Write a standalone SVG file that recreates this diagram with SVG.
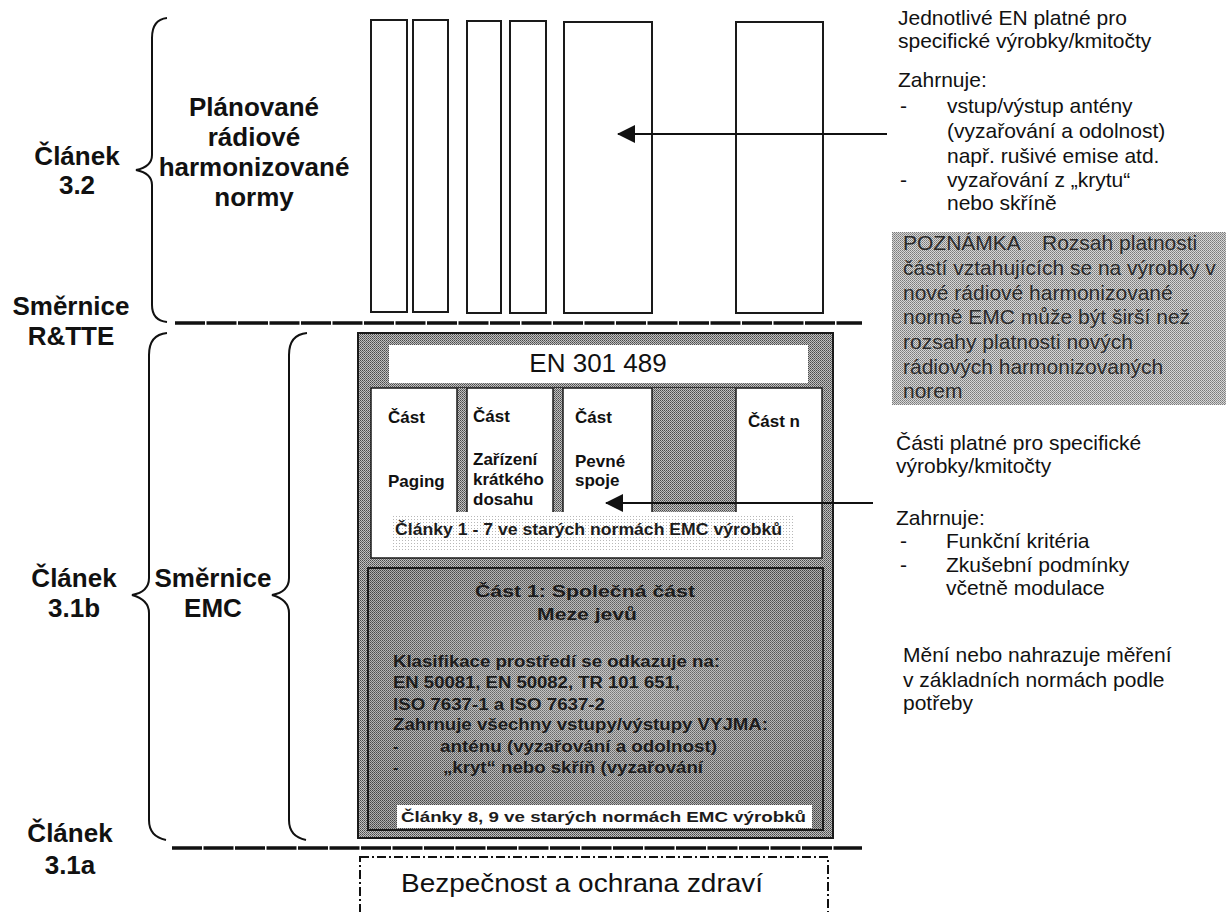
<svg xmlns="http://www.w3.org/2000/svg" width="1226" height="912" viewBox="0 0 1226 912">
<defs>
<style>
text{font-family:"Liberation Sans",Arial,Helvetica,sans-serif;fill:#111}
.lbl{font-weight:bold;font-size:26px;text-anchor:middle}
.rt{font-size:21px}
.nt{font-size:21px;fill:#2b2b2b}
.pt{font-weight:bold;font-size:17px}
.bt{font-weight:bold;font-size:16px;fill:#1c1c1c}
.mid{text-anchor:middle}
.tb{fill:#fff;stroke:#1a1a1a;stroke-width:2}
.sep{stroke:#111;stroke-width:3.5;stroke-dasharray:30 1.5;fill:none}
.brace{fill:none;stroke:#111;stroke-width:2}
.conn{stroke:#111;stroke-width:2;fill:none}
.edge{stroke:#1a1a1a;stroke-width:1.5;fill:none}
</style>
<pattern id="dotMid" width="2" height="2" patternUnits="userSpaceOnUse"><rect width="2" height="2" fill="#c0c0c0"/><rect width="1" height="1" fill="#4a4a4a"/><rect x="1" y="1" width="1" height="1" fill="#6a6a6a"/></pattern>
<pattern id="dotDark" width="2" height="2" patternUnits="userSpaceOnUse"><rect width="2" height="2" fill="#b0b0b0"/><rect width="1" height="1" fill="#444"/><rect x="1" y="1" width="1" height="1" fill="#606060"/></pattern>
<pattern id="dotNote" width="2" height="2" patternUnits="userSpaceOnUse"><rect width="2" height="2" fill="#d6d6d6"/><rect width="1" height="1" fill="#7a7a7a"/><rect x="1" y="1" width="1" height="1" fill="#909090"/></pattern>
<pattern id="dotLight" width="3" height="3" patternUnits="userSpaceOnUse"><rect width="3" height="3" fill="#fff"/><rect width="1" height="1" fill="#b8b8b8"/></pattern>
<radialGradient id="glow" cx="0.5" cy="0.45" r="0.6"><stop offset="0" stop-color="#fff" stop-opacity="0.3"/><stop offset="1" stop-color="#fff" stop-opacity="0"/></radialGradient>
<marker id="ah" markerWidth="18" markerHeight="18" viewBox="0 0 18 18" refX="17" refY="9" orient="auto" markerUnits="userSpaceOnUse"><path d="M0,0 L18,9 L0,18 Z" fill="#111"/></marker>
</defs>
<rect width="1226" height="912" fill="#fff"/>

<g id="left-labels">
<text class="lbl" x="77" y="165">Článek</text>
<text class="lbl" x="77" y="194">3.2</text>
<text class="lbl" x="71" y="315">Směrnice</text>
<text class="lbl" x="71" y="345">R&amp;TTE</text>
<text class="lbl" x="74" y="587">Článek</text>
<text class="lbl" x="74" y="617">3.1b</text>
<text class="lbl" x="70" y="842">Článek</text>
<text class="lbl" x="70" y="874">3.1a</text>
</g>

<g id="radio-label">
<text class="lbl" x="254" y="116">Plánované</text>
<text class="lbl" x="254" y="146">rádiové</text>
<text class="lbl" x="254" y="176">harmonizované</text>
<text class="lbl" x="254" y="206">normy</text>
</g>

<g id="emc-label">
<text class="lbl" x="213" y="587">Směrnice</text>
<text class="lbl" x="213" y="617">EMC</text>
</g>

<g id="braces">
<path class="brace" d="M167,18 C157,19 152,25 152,38 L152,155 C152,163 146,168 136,170 C146,172 152,177 152,185 L152,305 C152,316 157,321 167,322"/>
<path class="brace" d="M167,333 C156,334 149,341 149,355 L149,578 C149,588 143,593 132,595 C143,598 149,603 149,613 L149,820 C149,832 156,838 166,840"/>
<path class="brace" d="M307,333 C296,334 289,341 289,355 L289,578 C289,588 283,593 272,595 C283,598 289,603 289,613 L289,820 C289,832 296,838 306,840"/>
</g>

<g id="separators">
<line class="sep" x1="175" y1="323" x2="862" y2="323"/>
<line class="sep" x1="172" y1="848" x2="862" y2="848"/>
</g>

<g id="radio-standards">
<rect class="tb" x="371" y="20" width="36" height="292"/>
<rect class="tb" x="413" y="20" width="35" height="292"/>
<rect class="tb" x="467" y="21" width="34" height="292"/>
<rect class="tb" x="510" y="21" width="36" height="292"/>
<rect class="tb" x="564" y="22" width="88" height="291"/>
<rect class="tb" x="736" y="22" width="87" height="291"/>
</g>

<g id="en301489">
<rect x="358" y="333" width="475" height="505" fill="url(#dotMid)" stroke="#1a1a1a" stroke-width="2"/>
<rect x="389" y="345" width="419" height="38" fill="#fff"/>
<text x="598" y="372" class="mid" style="font-size:26px">EN 301 489</text>
</g>

<g id="parts">
<rect x="371" y="388" width="451" height="170" fill="#fff" stroke="#1a1a1a" stroke-width="1.5"/>
<rect x="457" y="388" width="10" height="124" fill="url(#dotMid)"/>
<rect x="553" y="388" width="10" height="124" fill="url(#dotMid)"/>
<rect x="652" y="388" width="84" height="124" fill="url(#dotMid)"/>
<path class="edge" d="M457,388 V512 M467,388 V512 M553,388 V512 M563,388 V512 M652,388 V512 M736,388 V512"/>
<rect x="392" y="515" width="402" height="35" fill="url(#dotLight)"/>
<text class="bt" x="395" y="535" textLength="387" lengthAdjust="spacingAndGlyphs">Články 1 - 7 ve starých normách EMC výrobků</text>
</g>

<g id="part-paging">
<text class="pt" x="388" y="423">Část</text>
<text class="pt" x="388" y="487">Paging</text>
</g>
<g id="part-srd">
<text class="pt" x="473" y="422">Část</text>
<text class="pt" x="473" y="465">Zařízení</text>
<text class="pt" x="473" y="485">krátkého</text>
<text class="pt" x="473" y="505">dosahu</text>
</g>
<g id="part-fixed">
<text class="pt" x="575" y="423">Část</text>
<text class="pt" x="575" y="467">Pevné</text>
<text class="pt" x="575" y="486">spoje</text>
</g>
<g id="part-n">
<text class="pt" x="748" y="427">Část n</text>
</g>

<g id="part1">
<rect x="368" y="568" width="455" height="262" fill="url(#dotDark)" stroke="#1a1a1a" stroke-width="2"/>
<rect x="368" y="568" width="455" height="262" fill="url(#glow)"/>
<text class="bt" x="475" y="597" style="font-size:17px" textLength="220" lengthAdjust="spacingAndGlyphs">Část 1: Společná část</text>
<text class="bt" x="537" y="620" style="font-size:17px" textLength="100" lengthAdjust="spacingAndGlyphs">Meze jevů</text>
<text class="bt" x="393" y="667" textLength="327" lengthAdjust="spacingAndGlyphs">Klasifikace prostředí se odkazuje na:</text>
<text class="bt" x="393" y="688" textLength="287" lengthAdjust="spacingAndGlyphs">EN 50081, EN 50082, TR 101 651,</text>
<text class="bt" x="393" y="710" textLength="212" lengthAdjust="spacingAndGlyphs">ISO 7637-1 a ISO 7637-2</text>
<text class="bt" x="393" y="730" textLength="375" lengthAdjust="spacingAndGlyphs">Zahrnuje všechny vstupy/výstupy VYJMA:</text>
<text class="bt" x="393" y="752">-</text>
<text class="bt" x="440" y="752" textLength="277" lengthAdjust="spacingAndGlyphs">anténu (vyzařování a odolnost)</text>
<text class="bt" x="393" y="773">-</text>
<text class="bt" x="443" y="773" textLength="260" lengthAdjust="spacingAndGlyphs">„kryt“ nebo skříň (vyzařování</text>
<rect x="397" y="805" width="415" height="23" fill="#fff"/>
<text class="bt" x="401" y="822" style="font-size:15px" textLength="405" lengthAdjust="spacingAndGlyphs">Články 8, 9 ve starých normách EMC výrobků</text>
</g>

<g id="safety">
<rect x="360" y="857" width="468" height="70" fill="none" stroke="#111" stroke-width="2" stroke-dasharray="9 3 2 3"/>
<text x="582" y="892" class="mid" style="font-size:25px" textLength="362" lengthAdjust="spacingAndGlyphs">Bezpečnost a ochrana zdraví</text>
</g>

<g id="note-radio">
<text class="rt" x="898" y="25">Jednotlivé EN platné pro</text>
<text class="rt" x="898" y="48">specifické výrobky/kmitočty</text>
<text class="rt" x="898" y="87">Zahrnuje:</text>
<text class="rt" x="900" y="113">-</text>
<text class="rt" x="947" y="113">vstup/výstup antény</text>
<text class="rt" x="947" y="138">(vyzařování a odolnost)</text>
<text class="rt" x="947" y="163">např. rušivé emise atd.</text>
<text class="rt" x="900" y="187">-</text>
<text class="rt" x="947" y="187">vyzařování z „krytu“</text>
<text class="rt" x="947" y="210">nebo skříně</text>
</g>

<g id="note-box">
<rect x="892" y="232" width="334" height="173" fill="url(#dotNote)"/>
<text class="nt" x="903" y="250">POZNÁMKA</text>
<text class="nt" x="1042" y="250">Rozsah platnosti</text>
<text class="nt" x="903" y="275">částí vztahujících se na výrobky v</text>
<text class="nt" x="903" y="300">nové rádiové harmonizované</text>
<text class="nt" x="903" y="324">normě EMC může být širší než</text>
<text class="nt" x="903" y="349">rozsahy platnosti nových</text>
<text class="nt" x="903" y="374">rádiových harmonizovaných</text>
<text class="nt" x="903" y="398">norem</text>
</g>

<g id="note-parts">
<text class="rt" x="896" y="450">Části platné pro specifické</text>
<text class="rt" x="896" y="473">výrobky/kmitočty</text>
<text class="rt" x="896" y="525">Zahrnuje:</text>
<text class="rt" x="900" y="548">-</text>
<text class="rt" x="946" y="548">Funkční kritéria</text>
<text class="rt" x="900" y="572">-</text>
<text class="rt" x="946" y="572">Zkušební podmínky</text>
<text class="rt" x="946" y="595">včetně modulace</text>
</g>

<g id="note-measure">
<text class="rt" x="903" y="662">Mění nebo nahrazuje měření</text>
<text class="rt" x="903" y="687">v základních normách podle</text>
<text class="rt" x="903" y="710">potřeby</text>
</g>

<g id="connectors">
<line class="conn" x1="887" y1="134" x2="618" y2="134" marker-end="url(#ah)"/>
<line class="conn" x1="873" y1="503" x2="606" y2="503" marker-end="url(#ah)"/>
</g>
</svg>
